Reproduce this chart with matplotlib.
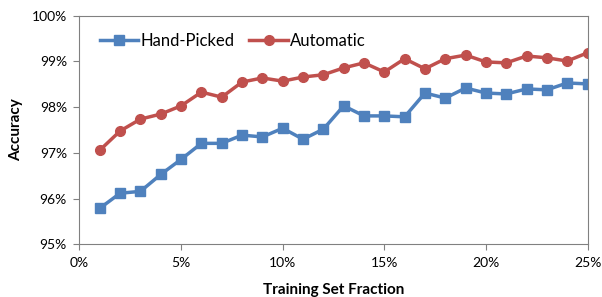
import matplotlib
matplotlib.use('Agg')
import matplotlib.pyplot as plt
from matplotlib.ticker import FuncFormatter

plt.rcParams['font.family'] = ['Lato', 'DejaVu Sans']

fraction = list(range(1, 26))
hand_picked = [95.79, 96.12, 96.16, 96.53, 96.86, 97.21, 97.21, 97.39, 97.35, 97.54,
               97.30, 97.52, 98.03, 97.81, 97.81, 97.79, 98.31, 98.20, 98.42, 98.31,
               98.29, 98.40, 98.38, 98.53, 98.51]
automatic = [97.06, 97.48, 97.74, 97.85, 98.03, 98.33, 98.22, 98.55, 98.64, 98.57,
             98.66, 98.71, 98.86, 98.97, 98.77, 99.06, 98.84, 99.06, 99.14, 98.99,
             98.97, 99.12, 99.08, 99.01, 99.19]

fig = plt.figure(figsize=(6.02, 2.97), dpi=100)
ax = fig.add_axes([0.132, 0.177, 0.844, 0.770])

ax.plot(fraction, hand_picked, color='#4F81BD', lw=2.5, marker='s', ms=7.5,
        label='Hand-Picked')
ax.plot(fraction, automatic, color='#C0504D', lw=2.5, marker='o', ms=7,
        label='Automatic')

ax.set_xlim(0, 25)
ax.set_ylim(95, 100)
ax.set_xticks([0, 5, 10, 15, 20, 25])
ax.set_yticks([95, 96, 97, 98, 99, 100])
ax.xaxis.set_major_formatter(FuncFormatter(lambda v, p: '%d%%' % v))
ax.yaxis.set_major_formatter(FuncFormatter(lambda v, p: '%d%%' % v))
ax.tick_params(labelsize=10, length=4, color='#808080', pad=5)

for s in ax.spines.values():
    s.set_color('#808080')

ax.set_xlabel('Training Set Fraction', fontsize=11, fontweight='bold', labelpad=10)
ax.set_ylabel('Accuracy', fontsize=11, fontweight='bold', labelpad=6)

ax.legend(loc='upper left', ncol=2, frameon=False, fontsize=12,
          bbox_to_anchor=(0.01, 0.99), handlelength=2.3, handletextpad=0.15,
          columnspacing=0.9)

fig.savefig('out.png', dpi=100)
